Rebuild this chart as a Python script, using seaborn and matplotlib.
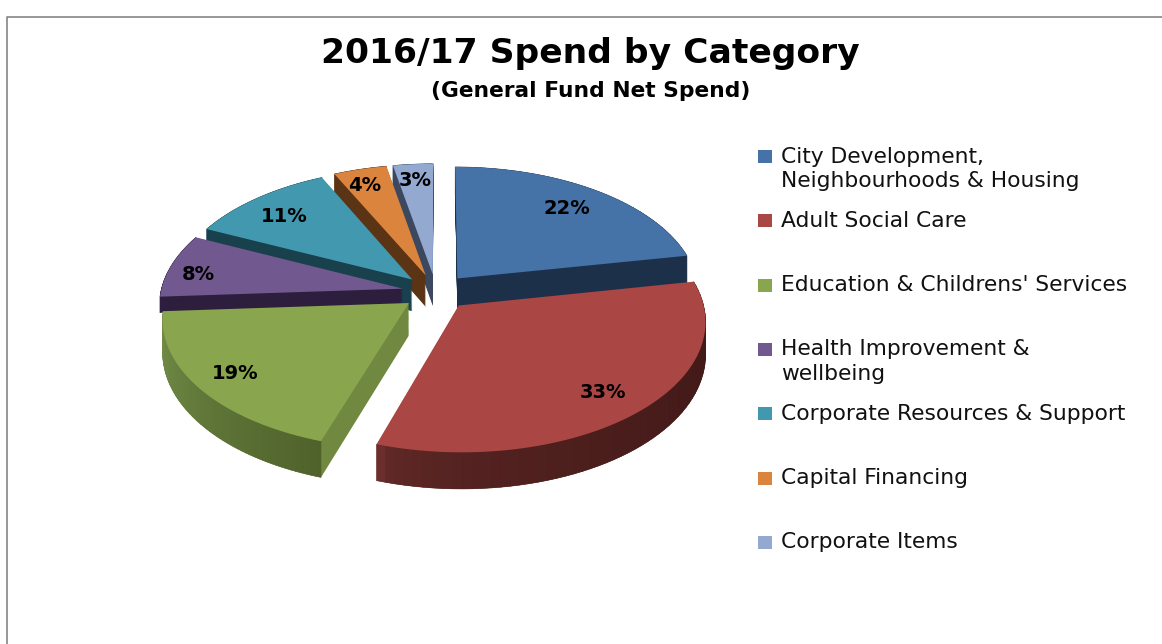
import numpy as np
import matplotlib
matplotlib.use("Agg")
import matplotlib.pyplot as plt
import matplotlib.transforms as mtransforms
from matplotlib.collections import PolyCollection
from matplotlib.colors import to_rgb
from matplotlib.path import Path
from matplotlib.patches import Rectangle
import seaborn as sns

sns.set_theme(style="white")
plt.rcParams["font.family"] = ["DejaVu Sans"]

# Values
categories = [
    "City Development,\nNeighbourhoods & Housing",
    "Adult Social Care",
    "Education & Childrens' Services",
    "Health Improvement &\nwellbeing",
    "Corporate Resources & Support",
    "Capital Financing",
    "Corporate Items",
]
spend_pct = [22, 33, 19, 8, 11, 4, 3]

top_colors = sns.color_palette(
    ["#4572a7", "#aa4643", "#89a54e", "#71588f", "#4198af", "#db843d", "#93a9cf"]
)
side_colors = ["#1c3049", "#451a18", "#70883f", "#2c1e3c", "#19404d", "#5a3415", "#3c4860"]
# outer wall shade at the start and the end of each slice
wall_start = ["#1c3049", "#6b2e2c", "#75904a", "#2c1e3c", "#19404d", "#5a3415", "#3c4860"]
wall_end = ["#1c3049", "#3f1816", "#4f622b", "#2c1e3c", "#19404d", "#5a3415", "#3c4860"]
wall_power = [1, 0.35, 1, 1, 1, 1, 1]
wall_depth = [1, 1, 1, 0.5, 1, 1, 1]

# back to front
draw_rank = [4, 6, 5, 3, 2, 1, 0]
label_radius = [0.70, 0.90, 0.89, 0.85, 0.73, 0.77, 0.75]
label_nudge = [(10, -7), (-16, -8), (11, -5), (-7, 6), (-13, -2), (-9, -6), (-2, -9)]
explode = [0.14] * 7

W, H = 1162, 644
CX, CY = 436, 292
SX, SY = 242, 127
PERSP = 0.113
DEPTH = 32
LAYERS = 30


class PieProjection(mtransforms.Transform):
    """Tilts the unit pie into figure pixels, z is how far down the wall."""
    input_dims = 2
    output_dims = 2

    def __init__(self, z=0.0):
        super().__init__()
        self.z = z

    def transform_non_affine(self, values):
        values = np.asarray(values)
        s = 1 / (1 + PERSP * values[:, 1])
        px = CX + SX * values[:, 0] * s
        py = CY - SY * values[:, 1] * s + DEPTH * self.z * s
        return np.column_stack([px, py])

    def transform_path_non_affine(self, path):
        # sample the arcs first so the control points do not bend
        points = []
        for curve, code in path.iter_bezier():
            if code == Path.MOVETO:
                continue
            points.append(curve(np.linspace(0, 1, 25)))
        return Path(self.transform_non_affine(np.vstack(points)), closed=True)


fig = plt.figure(figsize=(W / 100, H / 100), dpi=100)
ax = fig.add_axes([0, 0, 1, 1])


def draw_layer(z, colors, base=0.0):
    wedges, *rest = ax.pie(
        spend_pct, explode=explode, colors=colors, startangle=90,
        counterclock=False, wedgeprops={"linewidth": 0},
    )
    for i, wedge in enumerate(wedges):
        wedge.set_transform(PieProjection(z * wall_depth[i]) + ax.transData)
        wedge.set_zorder(10 * draw_rank[i] + base)
    return wedges


# walls first: a stack of darker pies
for step in range(LAYERS, 0, -1):
    draw_layer(step / LAYERS, side_colors, base=1 + (LAYERS - step) / LAYERS)

top_wedges = draw_layer(0.0, top_colors, base=5)

# outer rim of each slice with its shading
for i, wedge in enumerate(top_wedges):
    angles = np.radians(np.linspace(wedge.theta1, wedge.theta2, 60))
    rim_x = wedge.center[0] + np.cos(angles)
    rim_y = wedge.center[1] + np.sin(angles)
    rim_xy = np.column_stack([rim_x, rim_y])
    proj_top = PieProjection(0.0).transform_non_affine(rim_xy)
    proj_low = PieProjection(wall_depth[i]).transform_non_affine(rim_xy)
    quads = [
        [proj_top[j], proj_top[j + 1], proj_low[j + 1], proj_low[j]]
        for j in range(len(angles) - 1)
    ]
    c0 = np.array(to_rgb(wall_start[i]))
    c1 = np.array(to_rgb(wall_end[i]))
    shades = [c0 + (c1 - c0) * t ** wall_power[i] for t in np.linspace(0, 1, len(quads))]
    rim = PolyCollection(quads, facecolors=shades, edgecolors=shades, linewidths=0.4,
                         zorder=10 * draw_rank[i] + 3)
    ax.add_collection(rim)

# percent labels
for i, wedge in enumerate(top_wedges):
    mid = np.radians((wedge.theta1 + wedge.theta2) / 2)
    spot = np.array([[wedge.center[0] + label_radius[i] * np.cos(mid),
                      wedge.center[1] + label_radius[i] * np.sin(mid)]])
    lx, ly = PieProjection(0.0).transform_non_affine(spot)[0]
    ax.text(lx + label_nudge[i][0], ly + label_nudge[i][1], f"{spend_pct[i]}%",
            ha="center", va="center", fontsize=14, fontweight="bold",
            color="black", zorder=100)

ax.set_aspect("auto")
ax.set_xlim(0, W)
ax.set_ylim(H, 0)
ax.axis("off")

# chart frame, only left and top are in view
ax.plot([7, 7, W], [H, 17, 17], color="#858585", lw=1.2, zorder=1)

ax.text(590, 53, "2016/17 Spend by Category", ha="center", va="center",
        fontsize=24.8, fontweight="bold", color="black")
ax.text(591, 91, "(General Fund Net Spend)", ha="center", va="center",
        fontsize=15.7, fontweight="bold", color="black")

# legend, one slot per category
for i, label in enumerate(categories):
    slot_y = 156.5 + 64.3 * i
    ax.add_patch(Rectangle((758, slot_y - 6.5), 14, 13, facecolor=top_colors[i], edgecolor="none"))
    ax.text(781, slot_y - 10, label, ha="left", va="top", fontsize=15.7,
            color="#111111", linespacing=1.28)

fig.savefig("out.png", dpi=100, facecolor="white")
